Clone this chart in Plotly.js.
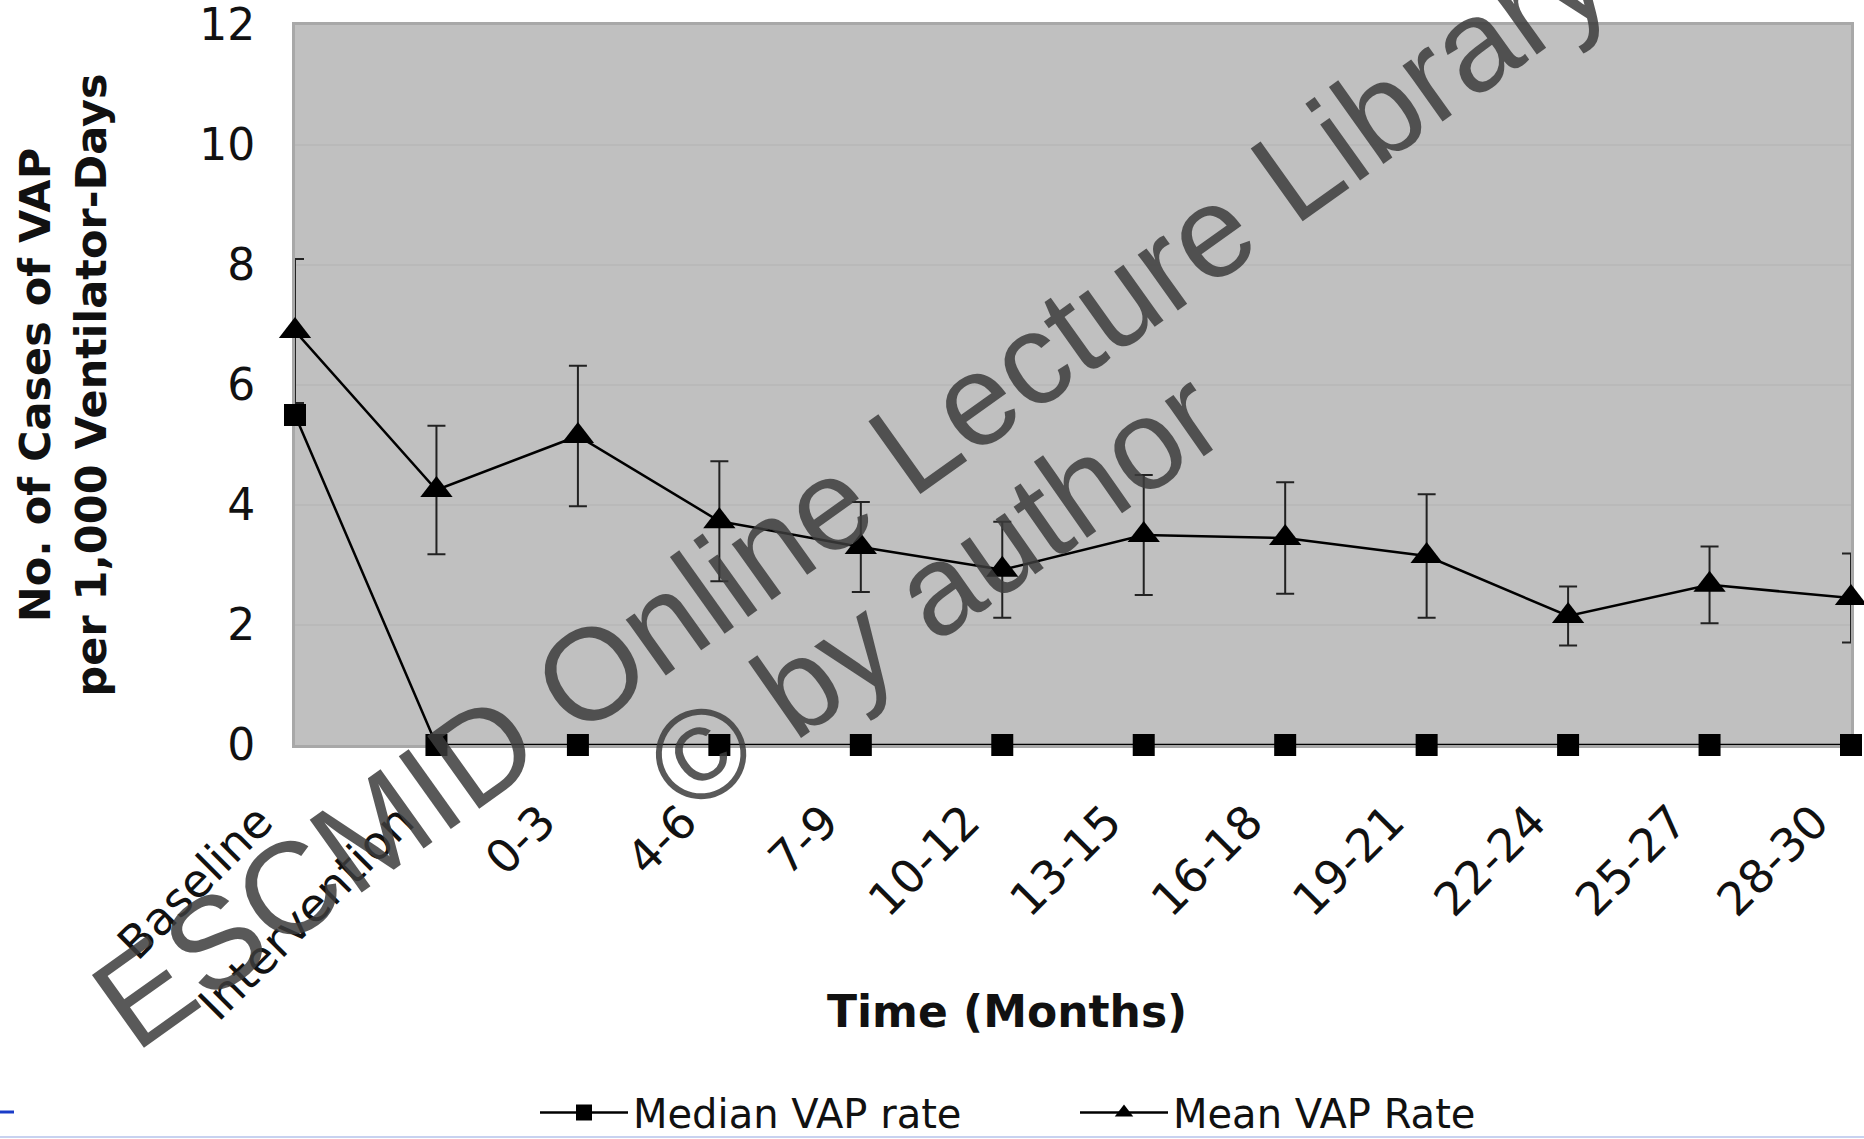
<!DOCTYPE html>
<html><head><meta charset="utf-8">
<script src="https://cdn.plot.ly/plotly-3.0.1.min.js"></script>
<style>html,body{margin:0;padding:0;background:#fff;} #chart{width:1864px;height:1139px;}</style>
</head><body><div id="chart"></div>
<script>
const categories = ["Baseline","Intervention","0-3","4-6","7-9","10-12","13-15","16-18","19-21","22-24","25-27","28-30"];
const medianRate = [5.5,0,0,0,0,0,0,0,0,0,0,0];
const meanRate   = [6.9,4.25,5.15,3.73,3.3,2.92,3.5,3.45,3.15,2.15,2.67,2.45];
const meanError  = [1.2,1.07,1.17,1.0,0.75,0.8,1.0,0.93,1.03,0.49,0.64,0.74];
const yTicks = [0,2,4,6,8,10,12];
const seriesNames = ["Median VAP rate","Mean VAP Rate"];
const xTitle = "Time (Months)";
const yTitle = "No. of Cases of VAP<br>per 1,000 Ventilator-Days";
const watermark1 = "ESCMID Online Lecture Library";
const watermark2 = "© by author";

const F = "DejaVu Sans, Verdana, sans-serif";
const W = 1864, H = 1139;
const L = 295, R = 13, T = 25, B = 394;
const pw = W - L - R, ph = H - T - B;
function px(x){ return (x - L) / pw; }
function py(y){ return (H - B - y) / ph; }

const traces = [
  {
    type: "scatter", mode: "lines+markers", name: seriesNames[0],
    x: categories, y: medianRate, cliponaxis: false,
    line: {color: "#000", width: 2.5},
    marker: {symbol: "square", size: 22, color: "#000"}
  },
  {
    type: "scatter", mode: "lines+markers", name: seriesNames[1],
    x: categories, y: meanRate, cliponaxis: false,
    line: {color: "#000", width: 2.5},
    marker: {symbol: "triangle-up", size: 28, color: "#000"},
    error_y: {type: "data", array: meanError, visible: true, color: "#222", thickness: 2, width: 9}
  }
];

const layout = {
  width: W, height: H,
  margin: {l: L, r: R, t: T, b: B, autoexpand: false},
  paper_bgcolor: "#fff",
  plot_bgcolor: "#c0c0c0",
  font: {family: F, color: "#111"},
  showlegend: true,
  legend: {
    orientation: "h", x: px(535), xanchor: "left", y: py(1080), yanchor: "top",
    font: {family: F, size: 40, color: "#111"},
    itemwidth: 88,
    entrywidth: 437, entrywidthmode: "pixels",
    bgcolor: "rgba(0,0,0,0)", traceorder: "normal"
  },
  xaxis: {
    type: "category", categoryorder: "array", categoryarray: categories,
    range: [0, categories.length - 1],
    tickangle: -45, tickfont: {family: F, size: 46, color: "#111"},
    ticks: "outside", ticklen: 6, tickcolor: "rgba(0,0,0,0)",
    ticklabelshift: -36, ticklabelstandoff: 22, ticklabeloverflow: "allow",
    showgrid: false, zeroline: false,
    showline: true, linecolor: "#a8a8a8", linewidth: 3, mirror: true,
    layer: "below traces",
    automargin: false, fixedrange: true
  },
  yaxis: {
    range: [0, 12], tickvals: yTicks, ticktext: yTicks.map(String),
    tickfont: {family: F, size: 44, color: "#111"},
    ticks: "outside", ticklen: 28, tickcolor: "rgba(0,0,0,0)",
    ticklabeloverflow: "allow",
    showgrid: true, gridcolor: "rgba(0,0,0,0.035)", gridwidth: 2,
    zeroline: false,
    showline: true, linecolor: "#a8a8a8", linewidth: 3, mirror: true,
    layer: "below traces",
    automargin: false, fixedrange: true,
    title: {text: yTitle, font: {family: F, size: 43, color: "#111", weight: "bold"}, standoff: 80}
  },
  annotations: [
    {text: xTitle, xref: "paper", yref: "paper", x: px(1007), y: py(1011),
     xanchor: "center", yanchor: "middle", showarrow: false,
     font: {family: F, size: 44, color: "#111", weight: "bold"}},
    {text: watermark1, xref: "paper", yref: "paper", x: px(850), y: py(489),
     xanchor: "center", yanchor: "middle", showarrow: false, textangle: -35.5,
     font: {family: "Liberation Sans, Arial, sans-serif", size: 130, color: "rgba(60,60,60,0.85)"}},
    {text: watermark2, xref: "paper", yref: "paper", x: px(934), y: py(590),
     xanchor: "center", yanchor: "middle", showarrow: false, textangle: -35,
     font: {family: "Liberation Sans, Arial, sans-serif", size: 128, color: "rgba(60,60,60,0.85)"}}
  ],
  shapes: [
    {type: "line", xref: "paper", yref: "paper", x0: px(0), x1: px(W), y0: py(1137), y1: py(1137),
     line: {color: "#c8d2f0", width: 2}},
    {type: "line", xref: "paper", yref: "paper", x0: px(0), x1: px(14), y0: py(1112), y1: py(1112),
     line: {color: "#1a3cc8", width: 3}}
  ]
};

Plotly.newPlot("chart", traces, layout, {displayModeBar: false, staticPlot: true});
</script>
</body></html>
